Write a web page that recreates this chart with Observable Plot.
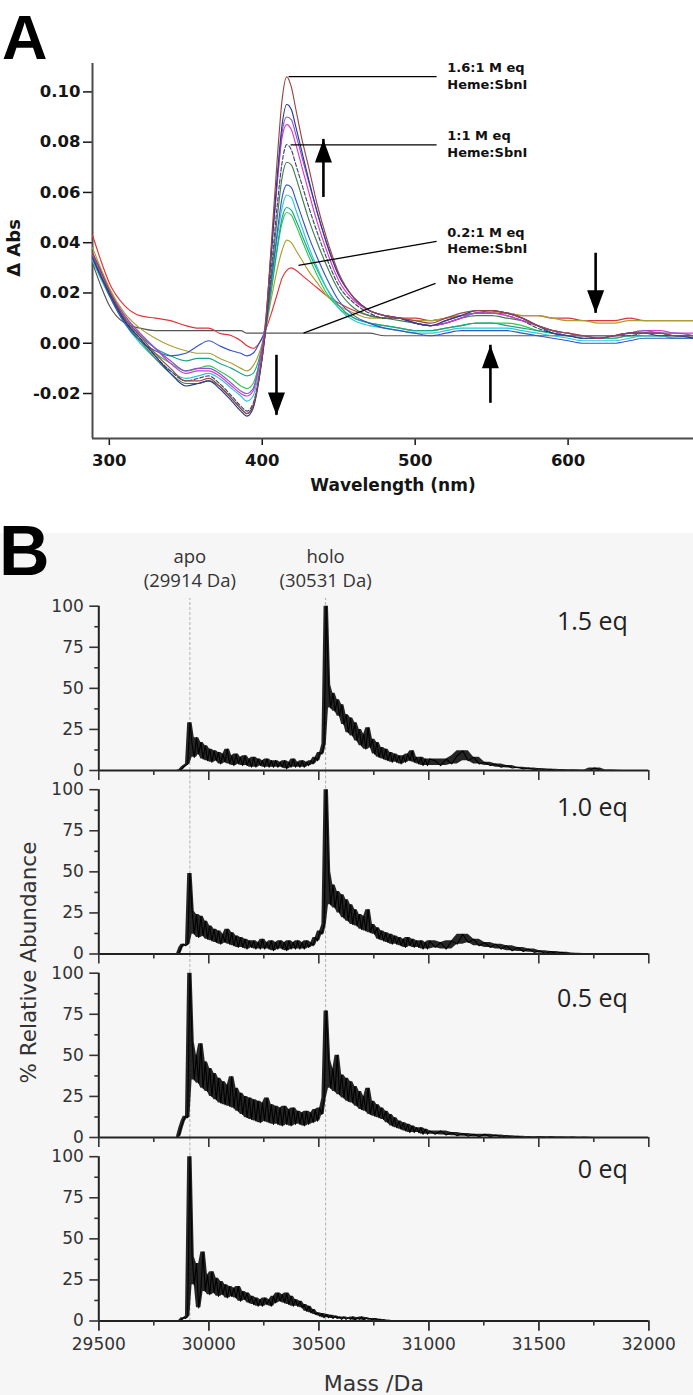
<!DOCTYPE html>
<html><head><meta charset="utf-8">
<script src="https://cdn.jsdelivr.net/npm/d3@7"></script>
<script src="https://cdn.jsdelivr.net/npm/@observablehq/plot@0.6"></script>
<style>
body{margin:0;background:#fff;}
#root{position:relative;width:693px;height:1395px;overflow:hidden;background:#fff;}
#bgB{position:absolute;left:0;top:533px;width:693px;height:862px;background:#f6f6f6;}
.big{position:absolute;font-family:"Liberation Sans",Arial,sans-serif;font-weight:bold;color:#000;line-height:normal;}
#lblA{left:2px;top:1px;font-size:63px;}
#lblB{left:-1px;top:511px;font-size:70px;}
#plotA{position:absolute;left:0;top:0;}
#plotB{position:absolute;left:0;top:530px;}
</style></head>
<body><div id="root"><div id="bgB"></div><div id="plotA"></div><div id="plotB"></div>
<div class="big" id="lblA">A</div><div class="big" id="lblB">B</div></div>
<script>
// ---------------- Panel A : difference spectra ----------------
const WL = [289,295,300,310,320,330,340,350,358,365,372,380,386,390,394,398,402,406,410,413,416,419,422,426,430,436,442,450,460,470,480,490,500,510,520,530,540,550,560,570,580,590,600,610,620,630,640,650,660,670,682];

const A_NOHEME = [0.032,0.022,0.015,0.008,0.006,0.005,0.005,0.005,0.005,0.005,
 0.005,0.005,0.005,0.004,0.004,0.004,0.004,0.004,0.004,0.004,
 0.004,0.004,0.004,0.004,0.004,0.004,0.004,0.004,0.004,0.004,
 0.003,0.003,0.003,0.003,0.003,0.003,0.003,0.003,0.003,0.003,
 0.003,0.003,0.003,0.003,0.003,0.003,0.003,0.003,0.003,0.003,0.003];
const A_BROWN = [0.036,0.028,0.021,0.010,0.003,-0.004,-0.010,-0.015,-0.015,-0.014,
 -0.017,-0.022,-0.026,-0.028,-0.025,-0.013,0.006,0.040,0.075,0.097,
 0.106,0.102,0.093,0.081,0.071,0.055,0.042,0.028,0.018,0.013,
 0.011,0.010,0.009,0.008,0.010,0.012,0.013,0.013,0.012,0.010,
 0.007,0.005,0.004,0.003,0.002,0.003,0.004,0.004,0.004,0.003,0.003];
const A_NAVY = [0.034,0.026,0.020,0.009,0.002,-0.005,-0.012,-0.017,-0.016,-0.015,
 -0.018,-0.023,-0.027,-0.029,-0.026,-0.014,0.005,0.036,0.068,0.087,
 0.095,0.093,0.086,0.076,0.066,0.052,0.040,0.027,0.018,0.013,
 0.011,0.010,0.008,0.007,0.009,0.011,0.013,0.013,0.012,0.010,
 0.007,0.004,0.003,0.002,0.002,0.003,0.004,0.004,0.003,0.003,0.002];
const A_PURPLE = [0.035,0.027,0.021,0.011,0.004,-0.002,-0.007,-0.011,-0.010,-0.010,
 -0.012,-0.016,-0.019,-0.020,-0.018,-0.008,0.008,0.038,0.066,0.084,
 0.090,0.089,0.083,0.074,0.065,0.052,0.040,0.027,0.018,0.013,
 0.011,0.010,0.008,0.007,0.009,0.011,0.012,0.013,0.012,0.010,
 0.007,0.005,0.003,0.003,0.002,0.003,0.004,0.005,0.004,0.004,0.003];
const A_MAGENTA = [0.036,0.028,0.021,0.011,0.004,-0.002,-0.008,-0.012,-0.011,-0.011,
 -0.013,-0.017,-0.020,-0.021,-0.019,-0.009,0.007,0.037,0.065,0.082,
 0.087,0.085,0.079,0.070,0.061,0.048,0.037,0.025,0.017,0.013,
 0.011,0.010,0.008,0.007,0.008,0.010,0.012,0.012,0.011,0.009,
 0.007,0.005,0.004,0.003,0.003,0.003,0.004,0.005,0.005,0.004,0.004];
const A_SLATE = [0.035,0.027,0.020,0.009,0.002,-0.005,-0.011,-0.015,-0.014,-0.013,
 -0.016,-0.021,-0.025,-0.027,-0.024,-0.013,0.004,0.030,0.056,0.072,
 0.079,0.077,0.071,0.063,0.055,0.044,0.034,0.023,0.016,0.012,
 0.010,0.010,0.008,0.007,0.008,0.010,0.012,0.012,0.011,0.009,
 0.006,0.004,0.003,0.002,0.002,0.003,0.003,0.004,0.004,0.003,0.003];
const A_DKGREEN = [0.034,0.026,0.020,0.009,0.001,-0.006,-0.012,-0.016,-0.016,-0.015,
 -0.017,-0.022,-0.026,-0.028,-0.025,-0.014,0.004,0.027,0.051,0.066,
 0.072,0.071,0.066,0.058,0.050,0.040,0.031,0.021,0.014,0.011,
 0.010,0.009,0.008,0.007,0.008,0.010,0.011,0.011,0.010,0.009,
 0.007,0.005,0.004,0.003,0.003,0.003,0.004,0.004,0.004,0.003,0.003];
const A_BLUE = [0.034,0.026,0.019,0.008,0.001,-0.003,-0.005,-0.004,-0.001,0.001,
 -0.001,-0.003,-0.004,-0.005,-0.004,0.000,0.006,0.025,0.045,0.058,
 0.063,0.062,0.057,0.050,0.043,0.034,0.026,0.017,0.011,0.008,
 0.006,0.005,0.004,0.003,0.004,0.005,0.005,0.005,0.005,0.004,
 0.003,0.002,0.001,0.000,0.000,0.000,0.001,0.002,0.002,0.002,0.002];
const A_CYAN = [0.033,0.025,0.019,0.008,0.000,-0.006,-0.011,-0.014,-0.013,-0.012,
 -0.014,-0.018,-0.021,-0.023,-0.021,-0.011,0.004,0.024,0.043,0.054,
 0.059,0.058,0.053,0.046,0.039,0.030,0.022,0.014,0.009,0.007,
 0.006,0.005,0.004,0.004,0.005,0.006,0.006,0.006,0.006,0.005,
 0.004,0.003,0.002,0.001,0.001,0.001,0.002,0.003,0.003,0.002,0.002];
const A_TEAL = [0.034,0.026,0.020,0.010,0.003,-0.002,-0.005,-0.007,-0.006,-0.006,
 -0.008,-0.010,-0.012,-0.013,-0.012,-0.006,0.005,0.022,0.039,0.050,
 0.054,0.053,0.049,0.043,0.037,0.029,0.022,0.015,0.010,0.008,
 0.007,0.006,0.005,0.005,0.006,0.007,0.008,0.008,0.007,0.006,
 0.005,0.004,0.003,0.003,0.002,0.002,0.003,0.003,0.003,0.003,0.002];
const A_GREEN = [0.033,0.025,0.019,0.009,0.001,-0.004,-0.008,-0.011,-0.010,-0.009,
 -0.011,-0.014,-0.017,-0.018,-0.016,-0.008,0.005,0.021,0.038,0.048,
 0.052,0.051,0.047,0.041,0.035,0.027,0.020,0.014,0.010,0.008,
 0.007,0.006,0.005,0.005,0.006,0.007,0.008,0.008,0.008,0.007,
 0.005,0.004,0.003,0.003,0.002,0.002,0.003,0.003,0.003,0.002,0.002];
const A_OLIVE = [0.038,0.029,0.022,0.012,0.006,0.002,-0.001,-0.003,-0.004,-0.004,
 -0.006,-0.008,-0.010,-0.011,-0.009,-0.004,0.005,0.018,0.030,0.037,
 0.041,0.040,0.037,0.033,0.029,0.024,0.019,0.015,0.012,0.010,
 0.010,0.010,0.009,0.009,0.010,0.011,0.012,0.012,0.012,0.011,
 0.011,0.010,0.009,0.009,0.008,0.008,0.009,0.009,0.009,0.009,0.009];
const A_RED = [0.043,0.032,0.024,0.015,0.011,0.010,0.009,0.007,0.006,0.006,
 0.004,0.003,0.001,-0.001,-0.002,0.000,0.005,0.012,0.020,0.026,
 0.029,0.030,0.029,0.027,0.025,0.022,0.019,0.016,0.013,0.011,
 0.010,0.010,0.010,0.009,0.010,0.011,0.012,0.012,0.012,0.011,
 0.011,0.010,0.010,0.009,0.009,0.009,0.010,0.009,0.009,0.009,0.009];

const TRACES_A = [
  {values: A_NOHEME,  color: "#555555", dash: null},
  {values: A_RED,     color: "#e0343a", dash: null},
  {values: A_OLIVE,   color: "#a8a030", dash: null},
  {values: A_GREEN,   color: "#2ec84a", dash: null},
  {values: A_TEAL,    color: "#1aa58a", dash: null},
  {values: A_CYAN,    color: "#2cc6d8", dash: null},
  {values: A_BLUE,    color: "#3556c8", dash: null},
  {values: A_DKGREEN, color: "#3f7f4f", dash: null},
  {values: A_SLATE,   color: "#3d4868", dash: "4,2"},
  {values: A_MAGENTA, color: "#d63ad0", dash: null},
  {values: A_PURPLE,  color: "#8a55c8", dash: null},
  {values: A_NAVY,    color: "#283a8f", dash: null},
  {values: A_BROWN,   color: "#9a4545", dash: null}
];
const A_XTICKS = [300, 400, 500, 600];
const A_YTICKS = [-0.02, 0, 0.02, 0.04, 0.06, 0.08, 0.10];
const A_XDOMAIN = [289, 682];
const A_YDOMAIN = [-0.0379, 0.1113];

const A_LABELS = [
  {t: "1.6:1 M eq", x: 521, y: 0.1097}, {t: "Heme:SbnI", x: 521, y: 0.1030},
  {t: "1:1 M eq",   x: 521, y: 0.0827}, {t: "Heme:SbnI", x: 521, y: 0.0759},
  {t: "0.2:1 M eq", x: 521, y: 0.0441}, {t: "Heme:SbnI", x: 521, y: 0.0377},
  {t: "No Heme",    x: 521, y: 0.0254}
];
const A_LEADERS = [
  {x1: 417.2, y1: 0.1061, x2: 514, y2: 0.1061},
  {x1: 418.5, y1: 0.0789, x2: 514, y2: 0.0789},
  {x1: 423.7, y1: 0.0310, x2: 514, y2: 0.0405},
  {x1: 427.0, y1: 0.0040, x2: 513.3, y2: 0.0238}
];
const A_ARROWS = [
  {x: 440,   tail: 0.058,   tip: 0.0811,  dir: "up"},
  {x: 618,   tail: 0.0358,  tip: 0.0119,  dir: "down"},
  {x: 409.3, tail: -0.0048, tip: -0.0287, dir: "down"},
  {x: 549.2, tail: -0.0239, tip: -0.0008, dir: "up"}
];

const headSymbol = {draw(ctx) { ctx.moveTo(0, 0); ctx.lineTo(8.5, 23); ctx.lineTo(-8.5, 23); ctx.closePath(); }};

const plotA = Plot.plot({
  width: 693, height: 500,
  marginLeft: 92, marginRight: 0, marginTop: 63, marginBottom: 62,
  style: {background: "transparent", fontFamily: "DejaVu Sans", fontSize: "16px", fontWeight: "bold", color: "#151515"},
  x: {domain: A_XDOMAIN},
  y: {domain: A_YDOMAIN},
  marks: [
    Plot.axisY({ticks: A_YTICKS, tickFormat: d => d.toFixed(2), tickSize: 9, tickPadding: 3, fontSize: 16.5, fontWeight: "bold", label: null, strokeWidth: 1.5}),
    Plot.axisX({ticks: A_XTICKS, tickSize: 7, tickPadding: 9, fontSize: 16.5, fontWeight: "bold", label: null, strokeWidth: 1.5}),
    Plot.ruleX([A_XDOMAIN[0]], {stroke: "#4a4a4a", strokeWidth: 2}),
    Plot.ruleY([A_YDOMAIN[0]], {stroke: "#4a4a4a", strokeWidth: 2}),
    ...TRACES_A.map(t => Plot.line(WL, {x: d => d, y: (d, i) => t.values[i], stroke: t.color, strokeWidth: 1.15, strokeDasharray: t.dash, curve: "monotone-x"})),
    Plot.link(A_LEADERS, {x1: "x1", y1: "y1", x2: "x2", y2: "y2", stroke: "#000", strokeWidth: 1.3}),
    Plot.text(A_LABELS, {x: "x", y: "y", text: "t", textAnchor: "start", lineAnchor: "middle", fontSize: 13, fontWeight: "bold", fill: "#111"}),
    Plot.ruleX(A_ARROWS, {x: "x", y1: "tail", y2: "tip", stroke: "#000", strokeWidth: 2.6}),
    Plot.dot(A_ARROWS, {x: "x", y: "tip", symbol: headSymbol, rotate: d => d.dir === "up" ? 0 : 180, fill: "#000", stroke: null}),
    Plot.text(["Δ Abs"], {frameAnchor: "left", rotate: -90, dx: -78, dy: -3, textAnchor: "middle", lineAnchor: "middle", fontSize: 18, fontWeight: "bold", fill: "#151515"}),
    Plot.text(["Wavelength (nm)"], {frameAnchor: "bottom", dy: 47, lineAnchor: "middle", fontSize: 17, fontWeight: "bold", fill: "#151515"})
  ]
});
document.getElementById("plotA").appendChild(plotA);

// ---------------- Panel B : deconvoluted mass spectra ----------------
const PANELS = ["1.5 eq", "1.0 eq", "0.5 eq", "0 eq"];
const DENSE_START = 29854, DENSE_STEP = 10;   // sampling grid of the dense region
const TAIL_START = 31029, TAIL_STEP = 25;     // sampling grid of the tail

const MS15_DENSE = [0,0,0.5,2,3,4,29,16,8,20,
 10,17,7,15,6,13,5,12,6,11,
 4,10,5,13,4,9,3,10,4,8,
 3,9,3,7,2,8,2,7,3,6,
 2,7,2,6,2,6,2,5,2,6,
 1,5,2,7,2,5,2,6,2,5,
 3,6,4,8,6,11,10,16,100,52,
 38,47,36,43,33,40,28,34,23,32,
 21,29,18,25,15,22,13,26,14,19,
 10,17,8,14,7,13,6,11,5,10,
 5,9,4,9,5,10,6,12,5,8,
 4,8,3,7,3,7];
const MS15_TAIL = [6,3,7,4,9,12,6,8,4,5,3,4,2,3,1.5,2,1,1.5,0.5,1,0.5,0.8,0.3,0.5,0.2,0.3,0.2,0.2,0.2,1.5,0.3,0.2,0.1,0,0,0];

const MS10_DENSE = [0,0.5,4,6,5,6,49,26,12,24,
 10,23,11,20,9,17,8,15,7,14,
 6,12,7,15,6,13,5,11,4,10,
 4,9,3,8,4,8,3,7,3,9,
 3,7,3,8,2,7,3,8,3,7,
 2,8,3,7,3,8,3,7,3,8,
 4,7,5,10,8,14,12,18,100,50,
 30,42,28,38,25,36,22,33,20,30,
 18,27,17,24,15,23,14,27,13,18,
 12,16,9,14,8,13,7,12,6,11,
 6,10,5,9,4,10,5,9,4,8,
 4,8,3,7,3,8];
const MS10_TAIL = [4,7,3,8,6,12,7,9,5,7,4,6,3,5,2,4,1.5,3,1,2,0.5,1.5,0.3,1,0.2,0.5,0.2,0.3,0.1,0.2,0.1,0,0,0,0,0];

const MS05_DENSE = [0,1,6,10,13,12,100,58,35,50,
 33,57,30,46,28,42,25,39,23,36,
 21,34,20,32,19,37,18,30,16,27,
 14,25,12,24,11,23,10,22,9,21,
 10,24,9,20,8,19,8,18,7,19,
 8,17,7,18,8,16,8,15,7,16,
 8,15,9,17,10,18,14,24,77,47,
 30,42,28,50,26,38,24,36,22,34,
 21,31,19,28,17,25,16,30,14,22,
 13,20,12,18,11,16,9,14,7,12,
 6,10,5,9,4,8,3,7,3,6,
 3,6,2,5,2,4];
const MS05_TAIL = [2,4,1.5,3,1,2.5,0.8,2,0.5,2,0.5,1.5,0.3,1,0.3,0.8,0.2,0.5,0.2,0.4,0.2,0.5,0.1,0.3,0.1,0.2,0,0.1,0,0];

const MS00_DENSE = [0,0,0.5,2,1.5,3,100,39,22,35,
 8,20,42,18,28,16,30,17,26,15,
 24,16,22,14,21,15,20,14,21,12,
 18,13,17,11,15,10,14,9,13,9,
 14,10,13,9,15,11,17,12,16,11,
 17,10,15,9,13,9,12,8,10,6,
 9,5,7,4,5,3,4.5,2,4,2,
 3.5,1.5,3,1.5,2.5,1,2.5,1,2,1,
 2.5,0.5,2,1,2.5,0.5,2,1,1.5,0.5,
 1.5,0.5,1,0.3,0.8,0.2,0.5,0.2,0.3,0.1,
 0.2,0,0.1,0,0,0,0,0,0,0,
 0,0,0,0,0,0];
const MS00_TAIL = [0];

const B_XDOMAIN = [29500, 32000];
const B_XMAJOR = [29500, 30000, 30500, 31000, 31500, 32000];
const B_XMINOR = [29750, 30250, 30750, 31250, 31750];
const B_YMAJOR = [0, 25, 50, 75, 100];
const B_YMINOR = [12.5, 37.5, 62.5, 87.5];
const APO_HOLO = [29914, 30531];

const B_EQLABELS = [
  {panel: "1.5 eq", t: "1.5 eq", x: 31905, y: 90.3},
  {panel: "1.0 eq", t: "1.0 eq", x: 31905, y: 88.6},
  {panel: "0.5 eq", t: "0.5 eq", x: 31905, y: 84.4},
  {panel: "0 eq",   t: "0 eq",   x: 31905, y: 91.6}
];
const B_PEAKLABELS = [
  {panel: "1.5 eq", t: "apo",        x: 29914, y: 129.8},
  {panel: "1.5 eq", t: "(29914 Da)", x: 29914, y: 115},
  {panel: "1.5 eq", t: "holo",       x: 30531, y: 129.8},
  {panel: "1.5 eq", t: "(30531 Da)", x: 30531, y: 115}
];

function spectrum(panel, dense, tail) {
  return [
    ...dense.map((v, i) => ({panel, m: DENSE_START + i * DENSE_STEP, v})),
    ...tail.map((v, j) => ({panel, m: TAIL_START + j * TAIL_STEP, v}))
  ];
}
const specB = [
  ...spectrum("1.5 eq", MS15_DENSE, MS15_TAIL),
  ...spectrum("1.0 eq", MS10_DENSE, MS10_TAIL),
  ...spectrum("0.5 eq", MS05_DENSE, MS05_TAIL),
  ...spectrum("0 eq",   MS00_DENSE, MS00_TAIL)
];
// dashed reference lines run through every panel and across the gaps above them
const dashB = PANELS.flatMap((p, k) => APO_HOLO.map(m => ({panel: p, m, y1: 0, y2: k === 0 ? 104.7 : 111.7})));

const plotB = Plot.plot({
  width: 693, height: 865,
  marginLeft: 98.3, marginRight: 44.7, marginTop: 75.7, marginBottom: 74.5,
  style: {background: "transparent", fontFamily: "DejaVu Sans", fontSize: "17px", color: "#333"},
  x: {domain: B_XDOMAIN},
  y: {domain: [0, 100]},
  fy: {domain: PANELS, paddingInner: 0.1046, paddingOuter: 0, round: false, axis: null, label: null},
  marks: [
    Plot.ruleX(dashB, {x: "m", y1: "y1", y2: "y2", fy: "panel", stroke: "#b0b0b0", strokeWidth: 1, strokeDasharray: "3,2"}),
    // noise band: the envelope between neighbouring samples of each spectrum
    Plot.areaY(specB, Plot.map({y1: Plot.window({k: 3, reduce: "min"}), y2: Plot.window({k: 3, reduce: "max"})},
      {x: "m", y1: "v", y2: "v", z: "panel", fy: "panel", fill: "#000", fillOpacity: 0.85})),
    Plot.line(specB, {x: "m", y: "v", z: "panel", fy: "panel", stroke: "#000", strokeWidth: 1.1}),
    Plot.ruleY([0], {stroke: "#222", strokeWidth: 2}),
    Plot.ruleX([B_XDOMAIN[0]], {stroke: "#222", strokeWidth: 2}),
    Plot.axisY({ticks: B_YMAJOR, tickSize: 9, tickPadding: 6, fontSize: 17, label: null, strokeWidth: 1.6}),
    Plot.axisY({ticks: B_YMINOR, tickSize: 4, text: null, label: null, strokeWidth: 1.6}),
    Plot.axisX({ticks: B_XMAJOR, tickSize: 10, text: null, label: null, facetAnchor: null, strokeWidth: 1.6}),
    Plot.axisX({ticks: B_XMINOR, tickSize: 5, text: null, label: null, facetAnchor: null, strokeWidth: 1.6}),
    Plot.axisX({ticks: B_XMAJOR, tickSize: 10, tickPadding: 7, fontSize: 17, label: null, tickFormat: d => String(d), strokeWidth: 1.6}),
    Plot.text(B_EQLABELS, {x: "x", y: "y", fy: "panel", text: "t", textAnchor: "end", lineAnchor: "middle", fontFamily: "Open Sans", fontSize: 25, fill: "#222"}),
    Plot.text(B_PEAKLABELS, {x: "x", y: "y", fy: "panel", text: "t", textAnchor: "middle", lineAnchor: "middle", fontFamily: "Open Sans", fontSize: 18.5, fill: "#333"}),
    Plot.text([{panel: "1.0 eq", y: -5.2, t: "% Relative Abundance"}], {y: "y", fy: "panel", text: "t", frameAnchor: "left", dx: -69.3, rotate: -90, textAnchor: "middle", lineAnchor: "middle", fontSize: 21.5, fill: "#333"}),
    Plot.text([{panel: "0 eq", t: "Mass /Da"}], {fy: "panel", text: "t", frameAnchor: "bottom", dy: 62.5, textAnchor: "middle", lineAnchor: "middle", fontSize: 22, fill: "#333"})
  ]
});
document.getElementById("plotB").appendChild(plotB);
</script>
</body></html>
